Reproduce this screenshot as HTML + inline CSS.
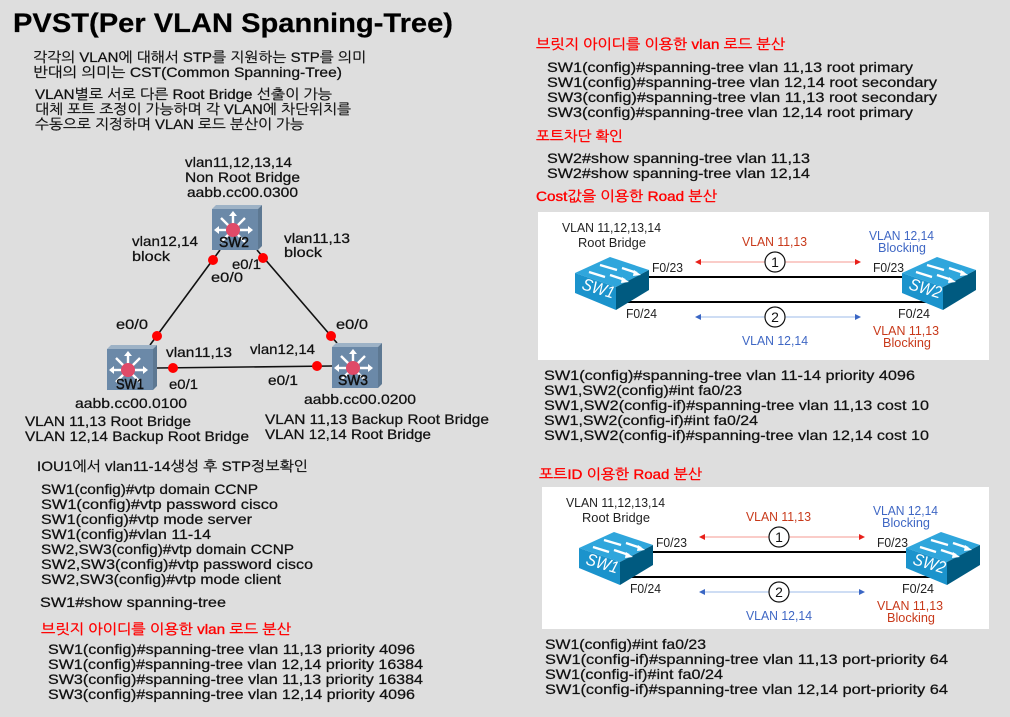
<!DOCTYPE html>
<html lang="ko"><head><meta charset="utf-8"><title>PVST</title>
<style>
html,body{margin:0;padding:0;background:#dedede;width:1010px;height:717px;overflow:hidden}
svg{display:block}
text{font-family:"Liberation Sans","NanumGothic","Noto Sans CJK KR",sans-serif;font-size:14px;fill:#111;stroke:#111;stroke-width:.25px;white-space:pre}
.r{fill:#f00;stroke:#f00;stroke-width:.35px;font-size:14px}
.s{font-size:13px;fill:#222;stroke:none}
.rd{font-size:13px;fill:#c8391a;stroke:none}
.bl{font-size:13px;fill:#3f67c4;stroke:none}
.c{font-size:14px;fill:#111;stroke:none}
.w{font-size:17px;font-style:italic;fill:#fff;stroke:none}
.b{font-size:15px;stroke-width:.5px}
</style></head><body>
<svg width="1010" height="717" viewBox="0 0 1010 717" xmlns="http://www.w3.org/2000/svg">
<defs>
<g id="ms">
<polygon points="0,4 4,0 50,0 46,4" fill="#9db2c6"/>
<polygon points="46,4 50,0 50,41 46,45" fill="#5d7892"/>
<rect x="0" y="4" width="46" height="41" fill="#6b89a8"/>
<g stroke="#fff" stroke-width="2.4" fill="#fff">
<line x1="21" y1="25" x2="21" y2="10"/><line x1="21" y1="25" x2="5" y2="25"/><line x1="21" y1="25" x2="38" y2="25"/>
<line x1="21" y1="25" x2="9" y2="13"/><line x1="21" y1="25" x2="33" y2="13"/><line x1="21" y1="25" x2="9" y2="37"/><line x1="21" y1="25" x2="33" y2="37"/>
<polygon points="21,6 17,11 25,11" stroke="none"/><polygon points="2,25 7,21 7,29" stroke="none"/><polygon points="41,25 36,21 36,29" stroke="none"/>
</g>
<circle cx="21" cy="25" r="7" fill="#e04a68"/>
</g>
<g id="cs">
<polygon points="0,16 35,0 74,13 41,30" fill="#2fa6dc"/>
<polygon points="0,16 41,30 41,53 0,36" fill="#1b93cc"/>
<polygon points="41,30 74,13 74,33 41,53" fill="#005a80"/>
<g stroke="#fff" stroke-width="2.4" fill="#fff"><line x1="25" y1="8" x2="42" y2="13"/><line x1="47" y1="11" x2="62" y2="16"/><line x1="14" y1="15" x2="30" y2="20"/><line x1="35" y1="18" x2="50" y2="23"/>
<polygon points="66,18 59,13 58,19" stroke="none"/><polygon points="54,25 47,20 46,26" stroke="none"/></g>
</g>
<g id="dg">
<text x="562" y="232" class="s" textLength="99" lengthAdjust="spacingAndGlyphs">VLAN 11,12,13,14</text>
<text x="578" y="247" class="s" textLength="68" lengthAdjust="spacingAndGlyphs">Root Bridge</text>
<text x="742" y="246" class="rd" textLength="65" lengthAdjust="spacingAndGlyphs">VLAN 11,13</text>
<text x="869" y="240" class="bl" textLength="65" lengthAdjust="spacingAndGlyphs">VLAN 12,14</text>
<text x="878" y="252" class="bl" textLength="48" lengthAdjust="spacingAndGlyphs">Blocking</text>
<line x1="698" y1="262" x2="858" y2="262" stroke="#f59a90" stroke-width="1"/>
<polygon points="695,262 701,259 701,265" fill="#e8201a"/><polygon points="861,262 855,259 855,265" fill="#e8201a"/>
<circle cx="775" cy="262" r="10" fill="#fff" stroke="#111" stroke-width="1.2"/>
<text x="775" y="267" class="c" text-anchor="middle">1</text>
<line x1="698" y1="317" x2="858" y2="317" stroke="#9dbbea" stroke-width="1"/>
<polygon points="695,317 701,314 701,320" fill="#3a66c4"/><polygon points="861,317 855,314 855,320" fill="#3a66c4"/>
<circle cx="775" cy="317" r="10" fill="#fff" stroke="#111" stroke-width="1.2"/>
<text x="775" y="322" class="c" text-anchor="middle">2</text>
<line x1="640" y1="277" x2="910" y2="277" stroke="#000" stroke-width="2"/>
<line x1="625" y1="302" x2="935" y2="302" stroke="#000" stroke-width="2"/>
<use href="#cs" x="575" y="257"/><use href="#cs" x="902" y="257"/>
<text x="581" y="289" class="w" transform="rotate(17 581 289)" textLength="33" lengthAdjust="spacingAndGlyphs">SW1</text>
<text x="908" y="289" class="w" transform="rotate(17 908 289)" textLength="33" lengthAdjust="spacingAndGlyphs">SW2</text>
<text x="652" y="272" class="s" textLength="31" lengthAdjust="spacingAndGlyphs">F0/23</text>
<text x="873" y="272" class="s" textLength="31" lengthAdjust="spacingAndGlyphs">F0/23</text>
<text x="626" y="318" class="s" textLength="31" lengthAdjust="spacingAndGlyphs">F0/24</text>
<text x="898" y="318" class="s" textLength="32" lengthAdjust="spacingAndGlyphs">F0/24</text>
<text x="742" y="345" class="bl" textLength="66" lengthAdjust="spacingAndGlyphs">VLAN 12,14</text>
<text x="873" y="335" class="rd" textLength="66" lengthAdjust="spacingAndGlyphs">VLAN 11,13</text>
<text x="883" y="347" class="rd" textLength="48" lengthAdjust="spacingAndGlyphs">Blocking</text>
</g>
</defs>
<rect width="1010" height="717" fill="#dedede"/>

<text x="13" y="32" style="font-size:27px;font-weight:bold;fill:#000" textLength="440" lengthAdjust="spacingAndGlyphs">PVST(Per VLAN Spanning-Tree)</text>
<text x="33" y="62" textLength="333" lengthAdjust="spacingAndGlyphs">각각의 VLAN에 대해서 STP를 지원하는 STP를 의미</text>
<text x="33" y="77" textLength="309" lengthAdjust="spacingAndGlyphs">반대의 의미는 CST(Common Spanning-Tree)</text>
<text x="35" y="99" textLength="297" lengthAdjust="spacingAndGlyphs">VLAN별로 서로 다른 Root Bridge 선출이 가능</text>
<text x="35" y="114" textLength="316" lengthAdjust="spacingAndGlyphs">대체 포트 조정이 가능하며 각 VLAN에 차단위치를</text>
<text x="35" y="129" textLength="269" lengthAdjust="spacingAndGlyphs">수동으로 지정하며 VLAN 로드 분산이 가능</text>

<text x="185" y="167" textLength="107" lengthAdjust="spacingAndGlyphs">vlan11,12,13,14</text>
<text x="185" y="182" textLength="115" lengthAdjust="spacingAndGlyphs">Non Root Bridge</text>
<text x="187" y="197" textLength="111" lengthAdjust="spacingAndGlyphs">aabb.cc00.0300</text>

<g stroke="#111" stroke-width="1.6">
<line x1="220" y1="250" x2="150" y2="345"/>
<line x1="257" y1="250" x2="337" y2="343"/>
<line x1="157" y1="368" x2="332" y2="366"/>
</g>
<use href="#ms" x="212" y="205"/><use href="#ms" x="107" y="345"/><use href="#ms" x="332" y="343"/>
<text x="219" y="247" class="b" textLength="30" lengthAdjust="spacingAndGlyphs">SW2</text>
<text x="116" y="389" class="b" textLength="28" lengthAdjust="spacingAndGlyphs">SW1</text>
<text x="338" y="385" class="b" textLength="30" lengthAdjust="spacingAndGlyphs">SW3</text>
<g fill="#f00">
<circle cx="213" cy="260" r="5"/><circle cx="263" cy="258" r="5"/><circle cx="157" cy="336" r="5"/><circle cx="331" cy="336" r="5"/><circle cx="173" cy="368" r="5"/><circle cx="317" cy="366" r="5"/>
</g>
<text x="132" y="246" textLength="66" lengthAdjust="spacingAndGlyphs">vlan12,14</text>
<text x="132" y="261" textLength="38" lengthAdjust="spacingAndGlyphs">block</text>
<text x="284" y="243" textLength="66" lengthAdjust="spacingAndGlyphs">vlan11,13</text>
<text x="284" y="257" textLength="38" lengthAdjust="spacingAndGlyphs">block</text>
<text x="232" y="269" textLength="29" lengthAdjust="spacingAndGlyphs">e0/1</text>
<text x="211" y="282" textLength="32" lengthAdjust="spacingAndGlyphs">e0/0</text>
<text x="116" y="329" textLength="32" lengthAdjust="spacingAndGlyphs">e0/0</text>
<text x="336" y="329" textLength="32" lengthAdjust="spacingAndGlyphs">e0/0</text>
<text x="166" y="357" textLength="66" lengthAdjust="spacingAndGlyphs">vlan11,13</text>
<text x="250" y="354" textLength="65" lengthAdjust="spacingAndGlyphs">vlan12,14</text>
<text x="169" y="389" textLength="29" lengthAdjust="spacingAndGlyphs">e0/1</text>
<text x="268" y="385" textLength="30" lengthAdjust="spacingAndGlyphs">e0/1</text>
<text x="75" y="408" textLength="112" lengthAdjust="spacingAndGlyphs">aabb.cc00.0100</text>
<text x="304" y="404" textLength="112" lengthAdjust="spacingAndGlyphs">aabb.cc00.0200</text>

<text x="25" y="426" textLength="166" lengthAdjust="spacingAndGlyphs">VLAN 11,13 Root Bridge</text>
<text x="25" y="441" textLength="224" lengthAdjust="spacingAndGlyphs">VLAN 12,14 Backup Root Bridge</text>
<text x="265" y="424" textLength="224" lengthAdjust="spacingAndGlyphs">VLAN 11,13 Backup Root Bridge</text>
<text x="265" y="439" textLength="166" lengthAdjust="spacingAndGlyphs">VLAN 12,14 Root Bridge</text>

<text x="37" y="471" textLength="271" lengthAdjust="spacingAndGlyphs">IOU1에서 vlan11-14생성 후 STP정보확인</text>
<text x="41" y="494" textLength="217" lengthAdjust="spacingAndGlyphs">SW1(config)#vtp domain CCNP</text>
<text x="41" y="509" textLength="237" lengthAdjust="spacingAndGlyphs">SW1(config)#vtp password cisco</text>
<text x="41" y="524" textLength="211" lengthAdjust="spacingAndGlyphs">SW1(config)#vtp mode server</text>
<text x="41" y="539" textLength="170" lengthAdjust="spacingAndGlyphs">SW1(config)#vlan 11-14</text>
<text x="41" y="554" textLength="253" lengthAdjust="spacingAndGlyphs">SW2,SW3(config)#vtp domain CCNP</text>
<text x="41" y="569" textLength="272" lengthAdjust="spacingAndGlyphs">SW2,SW3(config)#vtp password cisco</text>
<text x="41" y="584" textLength="240" lengthAdjust="spacingAndGlyphs">SW2,SW3(config)#vtp mode client</text>
<text x="40" y="607" textLength="186" lengthAdjust="spacingAndGlyphs">SW1#show spanning-tree</text>
<text x="41" y="634" class="r" textLength="250" lengthAdjust="spacingAndGlyphs">브릿지 아이디를 이용한 vlan 로드 분산</text>
<text x="48" y="654" textLength="367" lengthAdjust="spacingAndGlyphs">SW1(config)#spanning-tree vlan 11,13 priority 4096</text>
<text x="48" y="669" textLength="375" lengthAdjust="spacingAndGlyphs">SW1(config)#spanning-tree vlan 12,14 priority 16384</text>
<text x="48" y="684" textLength="375" lengthAdjust="spacingAndGlyphs">SW3(config)#spanning-tree vlan 11,13 priority 16384</text>
<text x="48" y="699" textLength="367" lengthAdjust="spacingAndGlyphs">SW3(config)#spanning-tree vlan 12,14 priority 4096</text>

<text x="536" y="49" class="r" textLength="249" lengthAdjust="spacingAndGlyphs">브릿지 아이디를 이용한 vlan 로드 분산</text>
<text x="547" y="72" textLength="366" lengthAdjust="spacingAndGlyphs">SW1(config)#spanning-tree vlan 11,13 root primary</text>
<text x="547" y="87" textLength="390" lengthAdjust="spacingAndGlyphs">SW1(config)#spanning-tree vlan 12,14 root secondary</text>
<text x="547" y="102" textLength="390" lengthAdjust="spacingAndGlyphs">SW3(config)#spanning-tree vlan 11,13 root secondary</text>
<text x="547" y="117" textLength="366" lengthAdjust="spacingAndGlyphs">SW3(config)#spanning-tree vlan 12,14 root primary</text>
<text x="536" y="141" class="r" textLength="87" lengthAdjust="spacingAndGlyphs">포트차단 확인</text>
<text x="547" y="163" textLength="263" lengthAdjust="spacingAndGlyphs">SW2#show spanning-tree vlan 11,13</text>
<text x="547" y="178" textLength="263" lengthAdjust="spacingAndGlyphs">SW2#show spanning-tree vlan 12,14</text>
<text x="536" y="201" class="r" textLength="181" lengthAdjust="spacingAndGlyphs">Cost값을 이용한 Road 분산</text>

<rect x="538" y="212" width="451" height="148" fill="#fff"/>
<use href="#dg"/>

<text x="544" y="380" textLength="371" lengthAdjust="spacingAndGlyphs">SW1(config)#spanning-tree vlan 11-14 priority 4096</text>
<text x="544" y="395" textLength="198" lengthAdjust="spacingAndGlyphs">SW1,SW2(config)#int fa0/23</text>
<text x="544" y="410" textLength="385" lengthAdjust="spacingAndGlyphs">SW1,SW2(config-if)#spanning-tree vlan 11,13 cost 10</text>
<text x="544" y="425" textLength="214" lengthAdjust="spacingAndGlyphs">SW1,SW2(config-if)#int fa0/24</text>
<text x="544" y="440" textLength="385" lengthAdjust="spacingAndGlyphs">SW1,SW2(config-if)#spanning-tree vlan 12,14 cost 10</text>
<text x="539" y="479" class="r" textLength="163" lengthAdjust="spacingAndGlyphs">포트ID 이용한 Road 분산</text>

<rect x="542" y="487" width="447" height="142" fill="#fff"/>
<use href="#dg" x="4" y="275"/>

<text x="545" y="649" textLength="161" lengthAdjust="spacingAndGlyphs">SW1(config)#int fa0/23</text>
<text x="545" y="664" textLength="403" lengthAdjust="spacingAndGlyphs">SW1(config-if)#spanning-tree vlan 11,13 port-priority 64</text>
<text x="545" y="679" textLength="178" lengthAdjust="spacingAndGlyphs">SW1(config-if)#int fa0/24</text>
<text x="545" y="694" textLength="403" lengthAdjust="spacingAndGlyphs">SW1(config-if)#spanning-tree vlan 12,14 port-priority 64</text>
</svg>
</body></html>
